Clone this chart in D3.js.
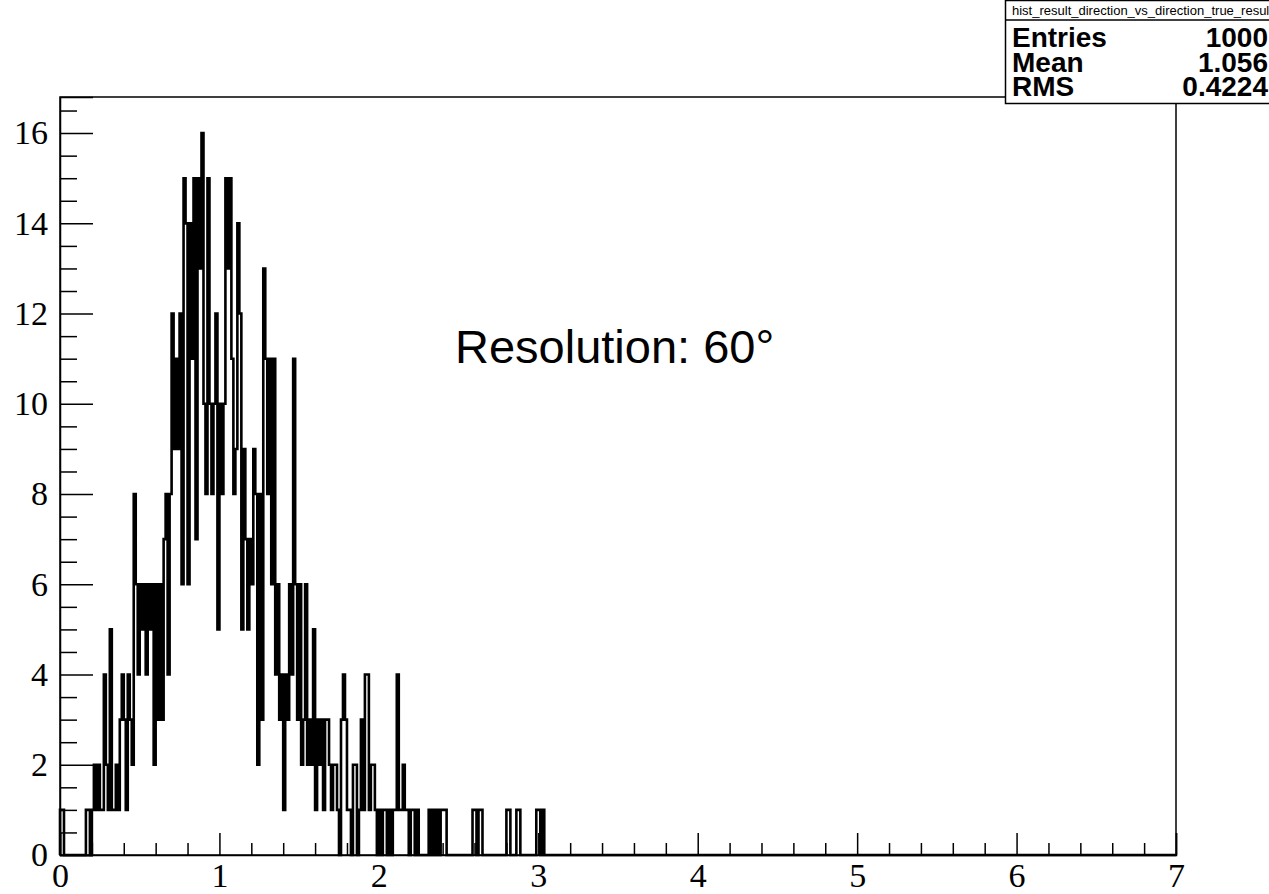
<!DOCTYPE html>
<html>
<head>
<meta charset="utf-8">
<script src="https://cdn.jsdelivr.net/npm/d3@7"></script>
<style>
  body { margin: 0; background: #fff; }
  svg { display: block; }
</style>
</head>
<body>
<div id="chart"></div>
<script>
// histogram binning (ROOT style, 560 bins over 0..7)
const xMin = 0, xMax = 7, nBins = 560;
const binWidth = (xMax - xMin) / nBins;

// bin contents, starting at bin 0 (rest are empty)
const counts = [
  1,1,0,0,0,0,0,0,0,0,0,0,0,1,1,0,1,2,1,2,
  1,1,4,2,1,5,1,1,2,1,3,4,3,1,4,3,2,8,6,4,
  6,5,6,4,6,5,6,2,6,3,6,3,7,8,4,8,12,9,11,9,
  12,6,15,14,6,14,11,15,7,15,13,16,10,8,15,10,8,10,12,5,
  10,8,10,15,13,15,11,8,9,14,12,5,9,7,5,7,6,9,8,2,
  8,3,13,11,8,11,6,11,4,6,3,4,1,4,3,6,4,11,6,3,
  6,2,3,6,2,3,2,5,1,3,2,3,1,3,3,2,1,2,2,1,
  0,3,4,3,1,1,0,2,2,0,1,3,1,4,4,1,2,2,1,0,
  1,0,1,1,0,1,0,1,1,4,1,1,2,1,1,0,1,1,0,1,
  0,0,0,0,0,1,0,1,0,1,0,1,1,1,0,0,0,0,0,0,
  0,0,0,0,0,0,0,1,1,0,1,1,0,0,0,0,0,0,0,0,
  0,0,0,0,1,1,0,0,0,1,1,0,0,0,0,0,0,0,0,1,
  1,0,1
];

// axis ticks
const xMajorTicks = [0, 1, 2, 3, 4, 5, 6, 7];
const yMajorTicks = [0, 2, 4, 6, 8, 10, 12, 14, 16];
const yMax = 16.8;

// stats box
const statsTitle = "hist_result_direction_vs_direction_true_result";
const statsLabels = ["Entries", "Mean", "RMS"];
const statsValues = ["1000", "1.056", "0.4224"];

const annotation = "Resolution: 60°";

const width = 1269, height = 894;
const margin = {top: 97, right: 93, bottom: 39, left: 60};
const plotW = width - margin.left - margin.right;
const plotH = height - margin.top - margin.bottom;

const svg = d3.select("#chart")
  .append("svg")
    .attr("width", width)
    .attr("height", height);

svg.append("rect")
  .attr("width", width)
  .attr("height", height)
  .attr("fill", "#fff");

const g = svg.append("g")
  .attr("transform", "translate(" + margin.left + "," + margin.top + ")");

const xScale = d3.scaleLinear().domain([xMin, xMax]).range([0, plotW]);
const yScale = d3.scaleLinear().domain([0, yMax]).range([plotH, 0]);

// full bin list
const bins = d3.range(nBins).map(i => ({
  lo: xMin + i * binWidth,
  value: i < counts.length ? counts[i] : 0
}));

// step outline of the histogram
const pts = [[xMin, 0]];
bins.forEach(b => pts.push([b.lo, b.value]));
pts.push([xMax, bins[bins.length - 1].value]);
pts.push([xMax, 0]);

const line = d3.line()
  .x(d => xScale(d[0]))
  .y(d => yScale(d[1]))
  .curve(d3.curveStepAfter);

g.append("path")
  .datum(pts)
  .attr("fill", "none")
  .attr("stroke", "#000")
  .attr("stroke-width", 2.6)
  .attr("d", line);

// frame
g.append("rect")
  .attr("width", plotW)
  .attr("height", plotH)
  .attr("fill", "none")
  .attr("stroke", "#000")
  .attr("stroke-width", 1.5);

// minor ticks
const xMinor = d3.range(0, 35).map(i => i * 0.2).filter(v => Math.abs(v - Math.round(v)) > 1e-6);
const yMinor = d3.range(0, 34).map(i => i * 0.5).filter(v => v % 2 !== 0 && v <= yMax);

g.append("g")
  .attr("transform", "translate(0," + plotH + ")")
  .call(d3.axisBottom(xScale).tickValues(xMinor).tickSize(-12).tickFormat(""))
  .call(a => a.select(".domain").remove());

g.append("g")
  .call(d3.axisLeft(yScale).tickValues(yMinor).tickSize(-17).tickFormat(""))
  .call(a => a.select(".domain").remove());

// major ticks + labels
const xAxis = g.append("g")
  .attr("transform", "translate(0," + plotH + ")")
  .call(d3.axisBottom(xScale).tickValues(xMajorTicks).tickSize(-22).tickPadding(9).tickFormat(d3.format("d")));

const yAxis = g.append("g")
  .call(d3.axisLeft(yScale).tickValues(yMajorTicks).tickSize(-33).tickPadding(12).tickFormat(d3.format("d")));

[xAxis, yAxis].forEach(a => {
  a.select(".domain").attr("stroke", "#000").attr("stroke-width", 1.5);
  a.selectAll("text")
    .attr("font-family", "Liberation Serif, Times New Roman, serif")
    .attr("font-size", 34)
    .attr("fill", "#000");
});
xAxis.selectAll("text").attr("dy", "0.68em");

g.selectAll(".tick line").attr("stroke", "#000").attr("stroke-width", 1.5);

// annotation
svg.append("text")
  .attr("x", 455)
  .attr("y", 363)
  .attr("font-family", "Liberation Sans, Arial, sans-serif")
  .attr("font-size", 47)
  .attr("fill", "#000")
  .text(annotation);

// stats box
const box = svg.append("g");
box.append("rect")
  .attr("x", 1005.5)
  .attr("y", 0.5)
  .attr("width", 300)
  .attr("height", 103)
  .attr("fill", "#fff")
  .attr("stroke", "#000")
  .attr("stroke-width", 1.5);

box.append("line")
  .attr("x1", 1005.5).attr("x2", 1305)
  .attr("y1", 20).attr("y2", 20)
  .attr("stroke", "#000")
  .attr("stroke-width", 1.5);

box.append("text")
  .attr("x", 1012)
  .attr("y", 15)
  .attr("font-family", "Liberation Sans, Arial, sans-serif")
  .attr("font-size", 13)
  .text(statsTitle);

statsLabels.forEach((lab, i) => {
  const yy = 47 + i * 24.5;
  box.append("text")
    .attr("x", 1012)
    .attr("y", yy)
    .attr("font-family", "Liberation Sans, Arial, sans-serif")
    .attr("font-weight", "bold")
    .attr("font-size", 28)
    .text(lab);
  box.append("text")
    .attr("x", 1268)
    .attr("y", yy)
    .attr("text-anchor", "end")
    .attr("font-family", "Liberation Sans, Arial, sans-serif")
    .attr("font-weight", "bold")
    .attr("font-size", 28)
    .text(statsValues[i]);
});
</script>
</body>
</html>
